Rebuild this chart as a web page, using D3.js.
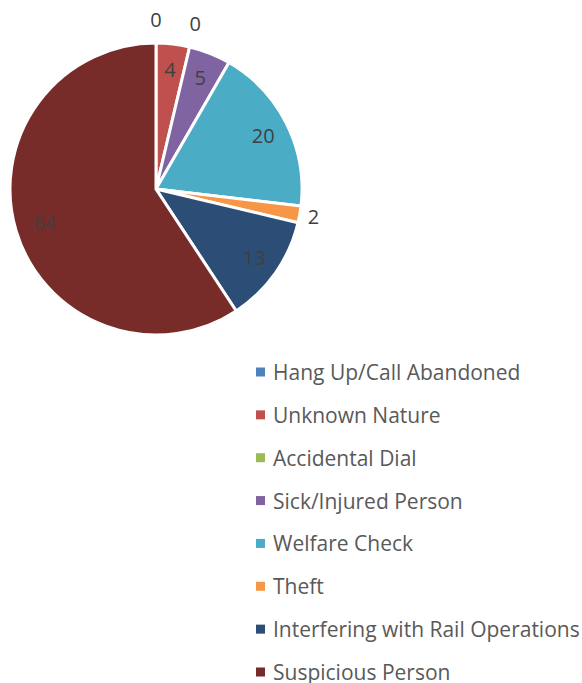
<!DOCTYPE html>
<html><head><meta charset="utf-8">
<script src="https://cdn.jsdelivr.net/npm/d3@7"></script>
<style>body{margin:0;background:#fff}svg{display:block}text{font-family:"Open Sans",sans-serif}</style>
</head><body>
<svg id="c" width="582" height="683"></svg>
<script>
const categories = ["Hang Up/Call Abandoned","Unknown Nature","Accidental Dial","Sick/Injured Person","Welfare Check","Theft","Interfering with Rail Operations","Suspicious Person"];
const values = [0,4,0,5,20,2,13,64];
const colors = ["#4F81BD","#C0504D","#9BBB59","#8064A2","#4BACC6","#F79646","#2C4D75","#772C2A"];

const svg = d3.select("#c");
const cx = 156, cy = 189, R = 146;
const data = categories.map((c,i)=>({name:c, value:values[i], color:colors[i]}));
const pie = d3.pie().sort(null).value(d=>d.value);
const arcs = pie(data);
const arc = d3.arc().innerRadius(0).outerRadius(R);
const g = svg.append("g").attr("transform",`translate(${cx},${cy})`);
g.selectAll("path").data(arcs.filter(a=>a.data.value>0)).join("path")
  .attr("d",arc).attr("fill",d=>d.data.color)
  .attr("stroke","#fff").attr("stroke-width",3).attr("stroke-linejoin","miter");

function labelPos(a){
  const mid=(a.startAngle+a.endAngle)/2;
  const frac=(a.endAngle-a.startAngle)/(2*Math.PI);
  let r;
  if(a.data.value===0) r=170; else if(frac<0.03) r=160; else if(frac>0.5) r=116; else r=120;
  return [r*Math.sin(mid), -r*Math.cos(mid)];
}
g.selectAll("text.lab").data(arcs).join("text").attr("class","lab")
  .attr("x",d=>labelPos(d)[0]).attr("y",d=>labelPos(d)[1])
  .attr("text-anchor","middle").attr("dominant-baseline","central")
  .attr("font-size",20).attr("fill","#404040").text(d=>d.data.value);

const leg = svg.append("g");
const ly = d3.scalePoint().domain(categories).range([372,672]);
const items = leg.selectAll("g").data(data).join("g").attr("transform",d=>`translate(0,${ly(d.name)})`);
items.append("rect").attr("x",256).attr("y",-4.5).attr("width",9).attr("height",9).attr("fill",d=>d.color);
items.append("text").attr("x",273).attr("y",0).attr("dominant-baseline","central")
  .attr("font-size",21).attr("fill","#595959").text(d=>d.name);
</script>
</body></html>
